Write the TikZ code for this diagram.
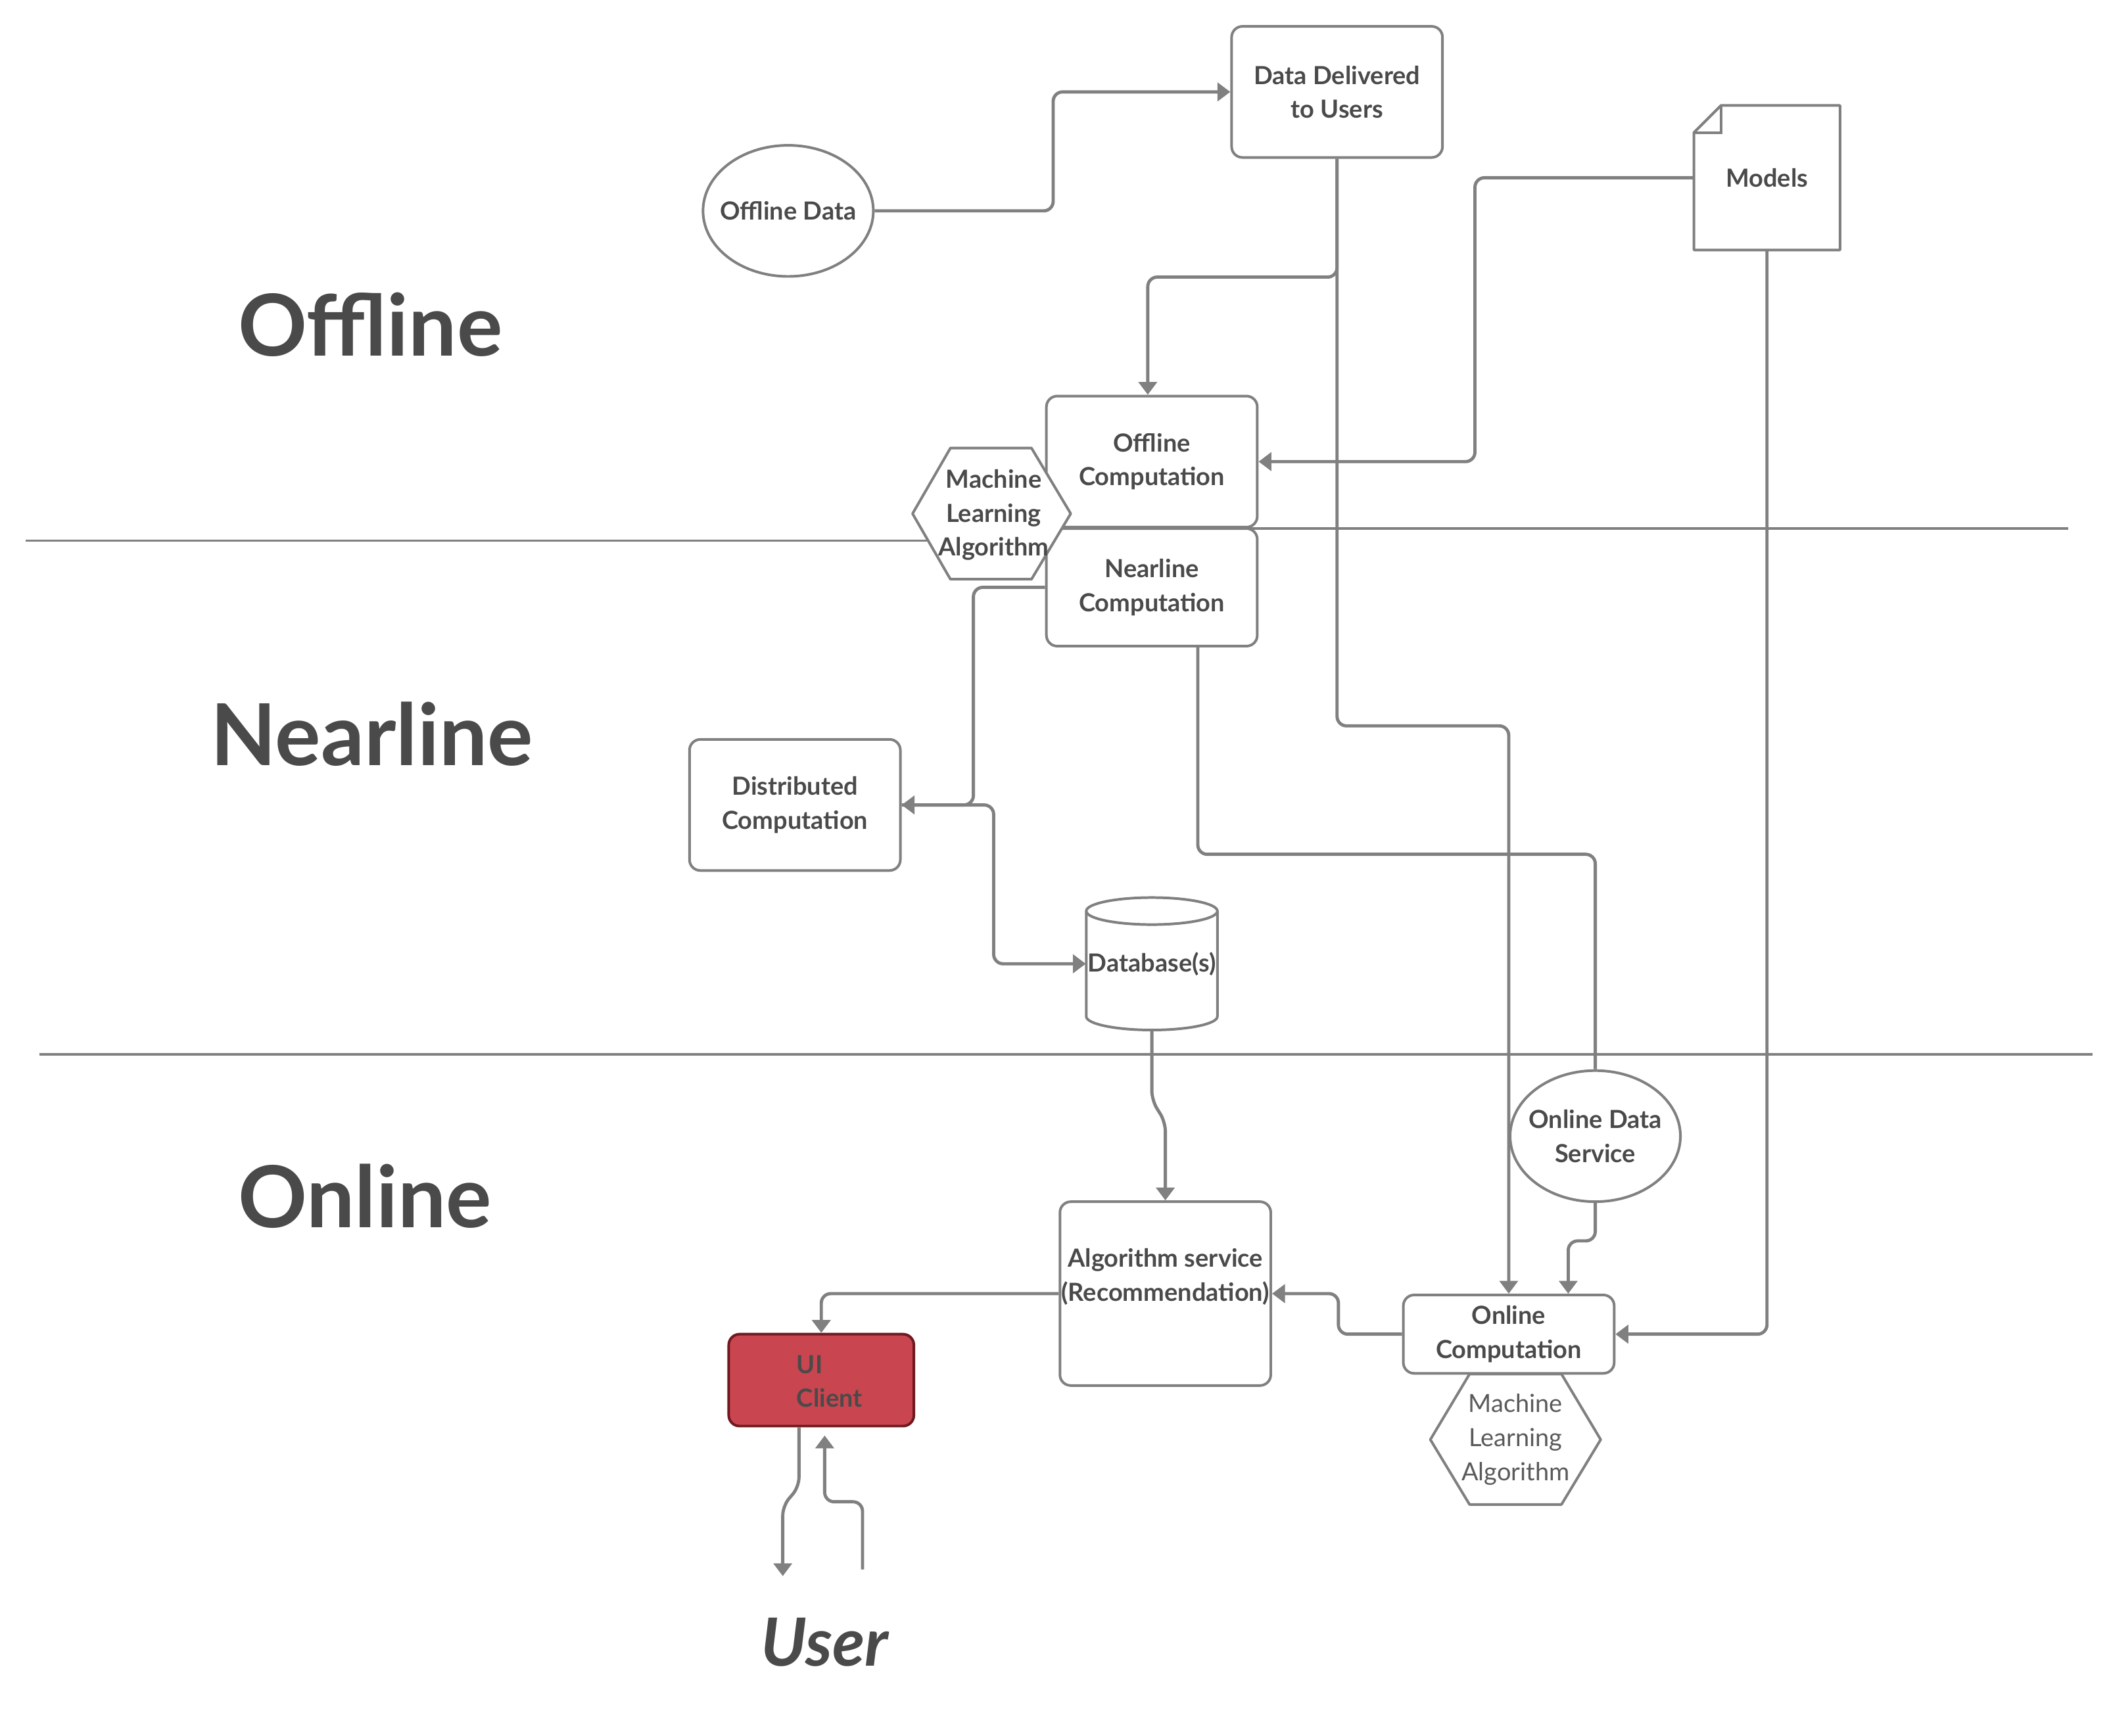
\documentclass[tikz,border=0pt]{standalone}
\usepackage{fontspec}
\setmainfont{Lato}
\usetikzlibrary{arrows.meta,shapes.geometric}
\definecolor{linec}{HTML}{808080}
\definecolor{txt}{HTML}{4A4A4A}
\definecolor{txtlight}{HTML}{5A5A5A}
\definecolor{uired}{HTML}{C9454F}
\definecolor{uiborder}{HTML}{6E1A20}
\newcommand\lblfont{\fontsize{10.5}{14.2}\selectfont\bfseries}
\newcommand\lblfontreg{\fontsize{10.5}{14.5}\selectfont}
\newcommand\titlefont{\fontsize{36}{40}\selectfont\bfseries}
\newcommand\userfont{\fontsize{28}{32}\selectfont\bfseries\itshape}
\tikzset{
 conn/.style={draw=linec, line width=1.35pt, rounded corners=0.14cm},
 arr/.style={conn, -{Triangle[length=0.19cm,width=0.27cm]}},
 box/.style={draw=linec, line width=1.1pt, rounded corners=0.16cm, fill=white, minimum width=3.12cm, minimum height=1.94cm, inner sep=0pt, align=center, text=txt, font=\lblfont},
 ell/.style={ellipse, draw=linec, line width=1.1pt, fill=white, minimum width=2.52cm, minimum height=1.94cm, inner sep=0pt},
 hexa/.style={draw=linec, line width=1.1pt, fill=white, line join=round},
 lbl/.style={inner sep=0pt, align=center, text=txt, font=\lblfont},
 sep/.style={draw=linec, line width=0.9pt},
 title/.style={text=txt, font=\titlefont, inner sep=0pt},
}
\begin{document}
\begin{tikzpicture}[x=0.02cm, y=-0.02cm]
\useasboundingbox (0,0) rectangle (1560,1284);
% separators
\draw[sep] (19,400) -- (690,400);
\draw[sep] (780,391) -- (1530,391);
\draw[sep] (29,780) -- (1548,780);

% titles
\node[title] (t1) at (274,240) {Offline};
\node[title] (t2) at (275,543) {Nearline};
\node[title] (t3) at (270,885) {Online};
\node[title, font=\userfont] (usr) at (610,1215) {User};

% nodes
\node[ell] (od) at (583,156) {};
\node[lbl] (odt) at (od.center) {Offline Data};
\node[box] (dd) at (989,68) {Data Delivered\\to Users};
\draw[draw=linec, line width=1.1pt, fill=white, line join=round] (1253,98) -- (1273,78) -- (1361,78) -- (1361,185) -- (1253,185) -- cycle;
\draw[draw=linec, line width=1.1pt] (1253,98) -- (1273,98) -- (1273,78);
\node[lbl, minimum width=2.16cm, minimum height=2.14cm] (models) at (1307,131.5) {Models};
\node[box] (oc) at (852,341.5) {Offline\\Computation};
\node[box, minimum height=1.74cm] (nc) at (852,434.5) {Nearline\\Computation};
\draw[hexa] (675,380) -- (703,331.5) -- (763,331.5) -- (792,380) -- (763,428.5) -- (703,428.5) -- cycle;
\node[lbl] (ml1) at (735,381) {Machine\\Learning\\Algorithm};
\node[box] (dc) at (588,595.5) {Distributed\\Computation};
% database cylinder
\draw[draw=linec, line width=1.1pt, fill=white] (803.5,674) -- (803.5,752) arc[start angle=180, end angle=360, x radius=0.97cm, y radius=0.2cm] -- (900.5,674);
\draw[draw=linec, line width=1.1pt, fill=white] (852,674) ellipse [x radius=0.97cm, y radius=0.2cm];
\node[lbl, minimum width=1.94cm, minimum height=1.96cm] (db) at (852,713) {Database(s)};
\node[ell] (ods) at (1180,840.5) {};
\node[lbl] (odst) at (ods.center) {Online Data\\Service};
\node[box, minimum height=2.72cm] (as) at (862,957) {};
\node[lbl] (ast) at (862,944.5) {Algorithm service\\(Recommendation)};
\node[box, minimum height=1.16cm] (onc) at (1116,987) {Online\\Computation};
\draw[hexa] (1058,1065) -- (1087,1016.5) -- (1155,1016.5) -- (1184,1065) -- (1155,1113) -- (1087,1113) -- cycle;
\node[lbl, font=\lblfontreg, text=txtlight] (ml2) at (1121,1065) {Machine\\Learning\\Algorithm};
\node[box, fill=uired, draw=uiborder, minimum width=2.74cm, minimum height=1.36cm] (ui) at (607.5,1021) {};
\node[lbl, align=left, anchor=west] (uit) at (589,1022) {UI\\Client};

% connectors
\draw[arr] (od.east) -- (779,156) |- (dd.west);
\draw[arr] (dd.south) |- (849,205) -- ([xshift=-0.06cm]oc.north);
\draw[arr] (dd.south) |- (1116,537) -- (onc.north);
\draw[arr] (models.west) -| (1091,260) |- (oc.east);
\draw[arr] (models.south) |- (onc.east);
\draw[arr] (nc.west) -| (720,520) |- (dc.east);
\draw[arr] (dc.east) -| (735,650) |- (db.west);
\draw[conn] ([xshift=0.68cm]nc.south) |- (1180,632) -- (ods.north);
\draw[arr] (db.south) -- (852,814) -- (862,830) -- (as.north);
\draw[arr] (ods.south) |- (1160,918) -- ([xshift=0.88cm]onc.north);
\draw[arr] (onc.west) -| (990,970) |- (as.east);
\draw[arr] (as.west) -| (ui.north);
\coordinate (uout) at (579,1166);
\coordinate (uin) at (638,1161);
\draw[arr] ([xshift=-0.33cm]ui.south) -- (591,1100) -- (579,1114) -- (uout);
\draw[arr] (uin) |- (610,1111) -- ([xshift=0.05cm, yshift=-0.12cm]ui.south);
\end{tikzpicture}
\end{document}
